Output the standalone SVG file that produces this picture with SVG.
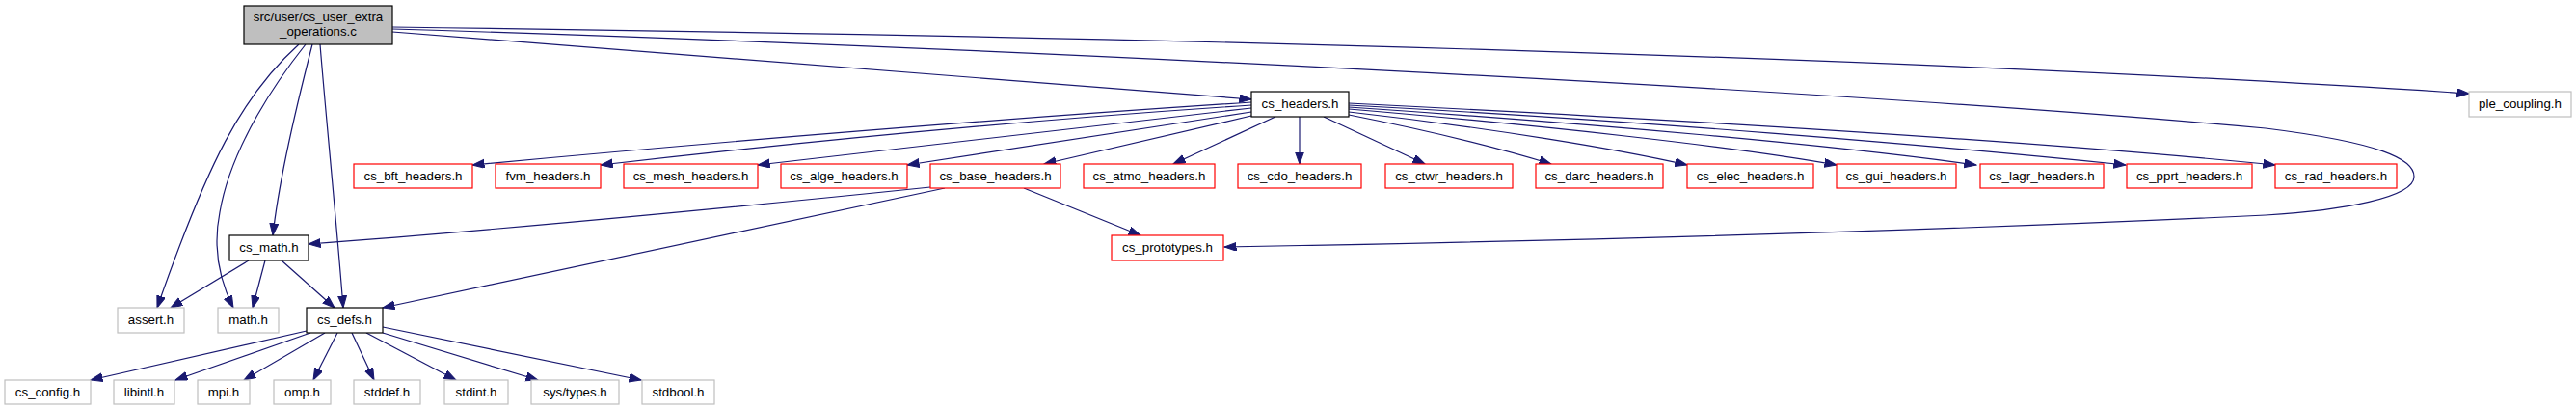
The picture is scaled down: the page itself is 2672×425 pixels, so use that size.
<svg xmlns="http://www.w3.org/2000/svg" width="2672" height="425" viewBox="0 0 2672 425">
<style>
.n rect{fill:#fff;stroke-width:1.2}
.blk rect{stroke:#000}
.red rect{stroke:#ff0000}
.gry rect{stroke:#bfbfbf}
.main rect{fill:#bfbfbf;stroke:#000}
text{font-family:"Liberation Sans",Arial,Helvetica,sans-serif;font-size:13.3px;fill:#000;text-anchor:middle}
.e{fill:none;stroke:#191970;stroke-width:1.2;marker-end:url(#ah)}
</style>
<defs>
<marker id="ah" markerUnits="userSpaceOnUse" markerWidth="14" markerHeight="10" refX="12.5" refY="4.5" orient="auto">
<path d="M0,0 L12.5,4.5 L0,9 Z" fill="#191970" stroke="#191970" stroke-width="1"/>
</marker>
</defs>
<rect width="2672" height="425" fill="#fff"/>
<g id="edges">
<path class="e" d="M407,33 L1298,103"/>
<path class="e" d="M407,28 C1200,38 2000,60 2561,97"/>
<path class="e" d="M407,30 C1000,48 1900,92 2350,133 C2470,148 2504,165 2504,183 C2504,205 2430,218 2350,223 C2000,240 1600,250 1270,256"/>
<path class="e" d="M310,46 C250,100 215,170 163,319"/>
<path class="e" d="M317,46 C290,80 240,150 228,220 C220,260 230,295 242,319"/>
<path class="e" d="M324,46 C310,100 290,180 283,244"/>
<path class="e" d="M332,46 C338,120 350,240 356,319"/>
<path class="e" d="M1298,106 C1100,119 800,142 490,171"/>
<path class="e" d="M1298,109 C1100,122 850,145 623,171"/>
<path class="e" d="M1298,112 L786,171"/>
<path class="e" d="M1298,116 L941,171"/>
<path class="e" d="M1298,120 L1083,170"/>
<path class="e" d="M1323,121 L1217,170"/>
<path class="e" d="M1348,121 L1348,170"/>
<path class="e" d="M1373,121 L1478,170"/>
<path class="e" d="M1399,119 C1480,135 1560,155 1609,170"/>
<path class="e" d="M1399,116 C1550,133 1680,155 1750,171"/>
<path class="e" d="M1399,113 C1600,130 1800,152 1905,171"/>
<path class="e" d="M1399,111 C1650,128 1900,150 2050,171"/>
<path class="e" d="M1399,109 C1700,125 2000,150 2205,171"/>
<path class="e" d="M1399,107 C1700,122 2100,145 2360,171"/>
<path class="e" d="M965,194 C850,206 550,236 320,253"/>
<path class="e" d="M980,195 L397,319"/>
<path class="e" d="M1062,195 L1183,244"/>
<path class="e" d="M258,270 L177,319"/>
<path class="e" d="M275,270 L262,319"/>
<path class="e" d="M292,270 L347,319"/>
<path class="e" d="M318,343 L94,394"/>
<path class="e" d="M322,345 L182,394"/>
<path class="e" d="M337,345 L253,394"/>
<path class="e" d="M350,345 L325,394"/>
<path class="e" d="M365,345 L388,394"/>
<path class="e" d="M380,345 L473,394"/>
<path class="e" d="M397,345 L558,394"/>
<path class="e" d="M397,339 L665,394"/>
</g>
<g id="node-main" class="n main"><rect x="253" y="6" width="154" height="40"/><text x="330" y="22">src/user/cs_user_extra</text><text x="330" y="37">_operations.c</text></g>
<g id="node-cs_headers" class="n blk"><rect x="1298" y="95" width="101" height="26"/><text x="1348.5" y="112">cs_headers.h</text></g>
<g id="node-ple_coupling" class="n gry"><rect x="2561" y="95" width="106" height="26"/><text x="2614" y="112">ple_coupling.h</text></g>
<g id="node-cs_bft_headers" class="n red"><rect x="367" y="170" width="123" height="25"/><text x="428.5" y="187">cs_bft_headers.h</text></g>
<g id="node-fvm_headers" class="n red"><rect x="514" y="170" width="109" height="25"/><text x="568.5" y="187">fvm_headers.h</text></g>
<g id="node-cs_mesh_headers" class="n red"><rect x="647" y="170" width="139" height="25"/><text x="716.5" y="187">cs_mesh_headers.h</text></g>
<g id="node-cs_alge_headers" class="n red"><rect x="810" y="170" width="131" height="25"/><text x="875.5" y="187">cs_alge_headers.h</text></g>
<g id="node-cs_base_headers" class="n red"><rect x="965" y="170" width="135" height="25"/><text x="1032.5" y="187">cs_base_headers.h</text></g>
<g id="node-cs_atmo_headers" class="n red"><rect x="1124" y="170" width="136" height="25"/><text x="1192" y="187">cs_atmo_headers.h</text></g>
<g id="node-cs_cdo_headers" class="n red"><rect x="1284" y="170" width="128" height="25"/><text x="1348" y="187">cs_cdo_headers.h</text></g>
<g id="node-cs_ctwr_headers" class="n red"><rect x="1437" y="170" width="132" height="25"/><text x="1503" y="187">cs_ctwr_headers.h</text></g>
<g id="node-cs_darc_headers" class="n red"><rect x="1593" y="170" width="132" height="25"/><text x="1659" y="187">cs_darc_headers.h</text></g>
<g id="node-cs_elec_headers" class="n red"><rect x="1750" y="170" width="131" height="25"/><text x="1815.5" y="187">cs_elec_headers.h</text></g>
<g id="node-cs_gui_headers" class="n red"><rect x="1905" y="170" width="124" height="25"/><text x="1967" y="187">cs_gui_headers.h</text></g>
<g id="node-cs_lagr_headers" class="n red"><rect x="2054" y="170" width="128" height="25"/><text x="2118" y="187">cs_lagr_headers.h</text></g>
<g id="node-cs_pprt_headers" class="n red"><rect x="2206" y="170" width="130" height="25"/><text x="2271" y="187">cs_pprt_headers.h</text></g>
<g id="node-cs_rad_headers" class="n red"><rect x="2360" y="170" width="126" height="25"/><text x="2423" y="187">cs_rad_headers.h</text></g>
<g id="node-cs_math" class="n blk"><rect x="238" y="244" width="82" height="26"/><text x="279" y="261">cs_math.h</text></g>
<g id="node-cs_prototypes" class="n red"><rect x="1153" y="244" width="116" height="26"/><text x="1211" y="261">cs_prototypes.h</text></g>
<g id="node-assert" class="n gry"><rect x="122" y="319" width="69" height="26"/><text x="156.5" y="336">assert.h</text></g>
<g id="node-math" class="n gry"><rect x="226" y="319" width="63" height="26"/><text x="257.5" y="336">math.h</text></g>
<g id="node-cs_defs" class="n blk"><rect x="318" y="319" width="79" height="26"/><text x="357.5" y="336">cs_defs.h</text></g>
<g id="node-cs_config" class="n gry"><rect x="5" y="394" width="89" height="25"/><text x="49.5" y="410.5">cs_config.h</text></g>
<g id="node-libintl" class="n gry"><rect x="118" y="394" width="63" height="25"/><text x="149.5" y="410.5">libintl.h</text></g>
<g id="node-mpi" class="n gry"><rect x="205" y="394" width="54" height="25"/><text x="232" y="410.5">mpi.h</text></g>
<g id="node-omp" class="n gry"><rect x="284" y="394" width="59" height="25"/><text x="313.5" y="410.5">omp.h</text></g>
<g id="node-stddef" class="n gry"><rect x="367" y="394" width="69" height="25"/><text x="401.5" y="410.5">stddef.h</text></g>
<g id="node-stdint" class="n gry"><rect x="461" y="394" width="66" height="25"/><text x="494" y="410.5">stdint.h</text></g>
<g id="node-sys_types" class="n gry"><rect x="551" y="394" width="91" height="25"/><text x="596.5" y="410.5">sys/types.h</text></g>
<g id="node-stdbool" class="n gry"><rect x="666" y="394" width="75" height="25"/><text x="703.5" y="410.5">stdbool.h</text></g>
</svg>
